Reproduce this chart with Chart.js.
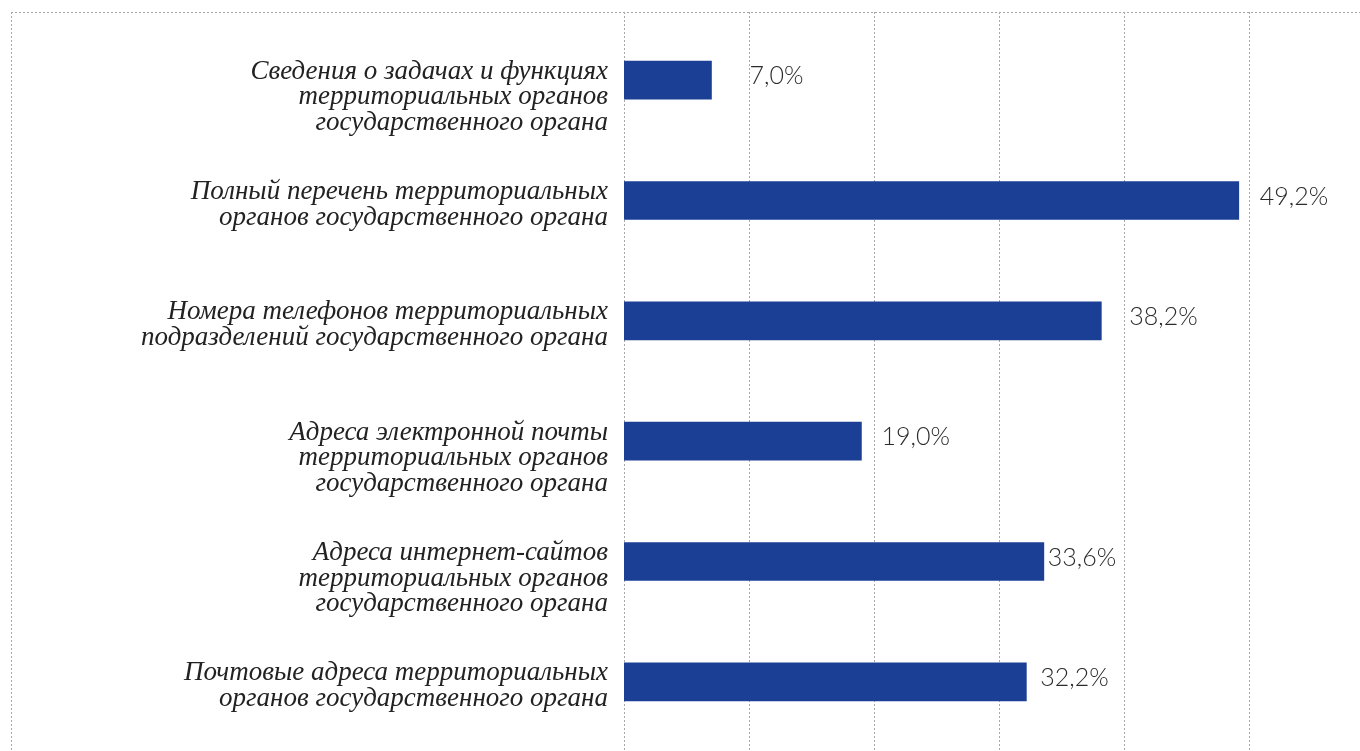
<!DOCTYPE html>
<html>
<head>
<meta charset="utf-8">
<script src="https://cdn.jsdelivr.net/npm/chart.js@4.4.1/dist/chart.umd.min.js"></script>
<style>
  html, body { margin: 0; padding: 0; background: #fff; }
  #wrap { width: 1360px; height: 751px; }
</style>
</head>
<body>
<div id="wrap"><canvas id="myChart"></canvas></div>
<script>
// категории (по строкам) и доли, %
const categories = [
    ['Сведения о задачах и функциях', 'территориальных органов', 'государственного органа'],
    ['Полный перечень территориальных', 'органов государственного органа'],
    ['Номера телефонов территориальных', 'подразделений государственного органа'],
    ['Адреса электронной почты', 'территориальных органов', 'государственного органа'],
    ['Адреса интернет-сайтов', 'территориальных органов', 'государственного органа'],
    ['Почтовые адреса территориальных', 'органов государственного органа']
];
const values = [7.0, 49.2, 38.2, 19.0, 33.6, 32.2];
const gridTicks = [0, 10, 20, 30, 40, 50];

// сдвиг подписей от конца столбика, px
const labelOffsets = [38, 21, 28, 20, 4, 14];

const frameTop = 12;
const frameLeft = 11;
const barH = 38;

const framePlugin = {
    id: 'frame',
    beforeDatasetsDraw(chart) {
        const c = chart.ctx;
        const x = chart.scales.x;
        c.save();
        c.strokeStyle = '#a6a6a6';
        c.lineWidth = 1;
        c.setLineDash([2, 2]);
        c.beginPath();
        c.moveTo(frameLeft, frameTop + 0.5);
        c.lineTo(chart.width, frameTop + 0.5);
        c.moveTo(frameLeft + 0.5, frameTop);
        c.lineTo(frameLeft + 0.5, chart.height);
        gridTicks.forEach(t => {
            const px = Math.round(x.getPixelForValue(t)) + 0.5;
            c.moveTo(px, frameTop);
            c.lineTo(px, chart.height);
        });
        c.stroke();
        c.restore();
    },
    afterDatasetsDraw(chart) {
        const c = chart.ctx;
        const meta = chart.getDatasetMeta(0);
        c.save();
        // подписи значений
        c.fillStyle = '#2b2b2b';
        c.font = '300 25px Lato, "Open Sans", sans-serif';
        c.textBaseline = 'middle';
        c.textAlign = 'left';
        meta.data.forEach((bar, i) => {
            const txt = values[i].toFixed(1).replace('.', ',') + '%';
            c.fillText(txt, bar.x + labelOffsets[i], bar.y - 4);
        });
        // категории: первая строка от верхнего края столбика
        c.fillStyle = '#222222';
        c.font = 'italic 27px "Liberation Serif", serif';
        c.textAlign = 'right';
        c.textBaseline = 'top';
        const right = chart.chartArea.left - 16;
        meta.data.forEach((bar, i) => {
            const top = bar.y - barH / 2 - 3;
            categories[i].forEach((line, k) => {
                c.fillText(line, right, top + k * 25.5);
            });
        });
        c.restore();
    }
};

const ctx = document.getElementById('myChart').getContext('2d');
const myChart = new Chart(ctx, {
    type: 'bar',
    data: {
        labels: categories,
        datasets: [{
            data: values,
            backgroundColor: '#1b3f94',
            borderWidth: 0,
            barThickness: barH
        }]
    },
    options: {
        indexAxis: 'y',
        responsive: true,
        maintainAspectRatio: false,
        animation: false,
        layout: {
            padding: { top: 20, bottom: 9, left: 0, right: 0 }
        },
        plugins: {
            legend: { display: false },
            tooltip: { enabled: false }
        },
        scales: {
            x: {
                display: false,
                min: 0,
                max: 58.9
            },
            y: {
                grid: { display: false },
                border: { display: false },
                ticks: { display: false },
                afterFit(scale) {
                    scale.width = 624;
                    scale.paddingTop = 0;
                    scale.paddingBottom = 0;
                }
            }
        }
    },
    plugins: [framePlugin]
});
</script>
</body>
</html>
